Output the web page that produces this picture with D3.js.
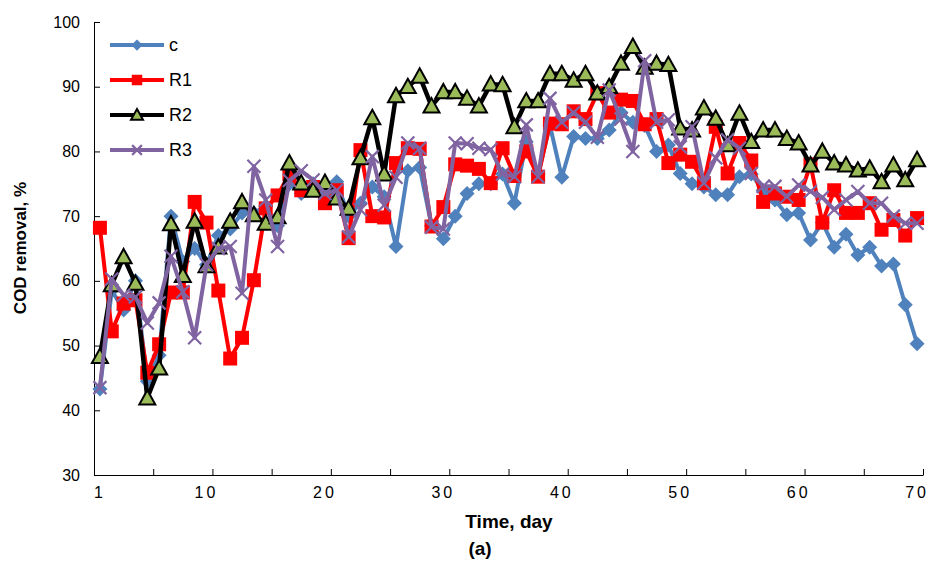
<!DOCTYPE html>
<html><head><meta charset="utf-8">
<script src="https://cdn.jsdelivr.net/npm/d3@7"></script>
<style>body{margin:0;background:#fff}svg{display:block}</style>
</head><body>
<svg id="chart" width="934" height="561"></svg>
<script>
const days = d3.range(1, 71);
const cVals = [43.3,58.5,55.5,60,44.5,48.5,70,63,65,62.5,67,68,70.5,70.5,71.5,68.5,75,73.5,75,73.5,75.3,70,72,74.5,73,65.3,77,77.5,68.5,66.5,70,73.5,75,75,76.5,72,81.5,76.5,84,76,82.3,82,82,83.3,86,84.5,84,80,81,76.6,75,74.5,73.3,73.3,76.1,76.5,74,72.5,70.2,70.5,66.3,69,65.2,67.2,64,65.2,62.3,62.6,56.3,50.3];
const r1Vals = [68.2,52.2,56.5,57,45.8,50.2,58.2,58.2,72.2,69,58.5,48,51.2,60.1,71.2,73.2,76.5,74,74.5,72,74,66.6,80.2,70,69.8,78.2,80.5,80.4,68.4,71.4,78,77.8,77.3,75.1,80.5,76.2,80,76.1,84.3,84.2,86.2,85,89,86,88,87.8,84.2,85,78.2,79.5,78.4,75.1,83.8,76.6,81.3,78.6,72.2,73.5,73,72.5,78,69,74,70.5,70.5,72,67.9,69.4,67,69.7];
const r2Vals = [48.3,59.4,63.7,59.6,41.9,46.5,68.8,60.8,69.2,62.3,65.2,69.2,72.2,70.2,68.9,69.9,78.2,75.1,74,75.2,72.8,71.2,79,85.2,76.5,88.6,90,91.6,87,89.2,89.2,88.2,87,90.4,90.3,83.8,87.8,87.8,92,92,91,92,89,90,93.6,96.2,93,93.6,93.4,83.6,83.3,86.7,85.1,81,85.9,81.5,83.3,83.3,82,81.3,77.9,80,78.2,77.9,77.1,77.4,75.3,77.9,75.6,78.7];
const r3Vals = [43.5,60.3,57.8,57.5,53.5,56.6,63.8,58.3,51.2,62.5,65,65.3,58.1,77.7,72.5,65.3,75.5,77,75.6,73.5,74,66.8,71,79.2,71.7,76,81.3,80.5,68.3,68,81.3,81.2,80.5,80.3,76.5,76.1,84.1,76.1,88.2,84.5,86,84.5,82.2,89.5,85,80,94,84.5,84.9,80.7,83.8,75.1,79,81.8,80.5,76.6,74.6,74.6,73,74.8,73.8,72.9,71,72.5,73.8,72,72,70,68.9,68.9];
const seriesNames = ["c","R1","R2","R3"];
const xTickLabels = [1,10,20,30,40,50,60,70];
const yTicks = [30,40,50,60,70,80,90,100];

const svg = d3.select("#chart");
const x = d3.scaleLinear().domain([0.5, 70.5]).range([94, 923]);
const y = d3.scaleLinear().domain([30, 100]).range([475, 22]);

const series = [
  {name:seriesNames[0], vals:cVals, line:"#4F81BD", fill:"#4F81BD", stroke:"none", shape:"diamond"},
  {name:seriesNames[1], vals:r1Vals, line:"#FF0000", fill:"#FF0000", stroke:"none", shape:"square"},
  {name:seriesNames[2], vals:r2Vals, line:"#000000", fill:"#9BBB59", stroke:"#000", shape:"triangle"},
  {name:seriesNames[3], vals:r3Vals, line:"#8064A2", fill:"none", stroke:"#8064A2", shape:"x"}
];

function markerPath(shape, k){
  k = k || 1;
  switch(shape){
    case "diamond": { const a=7.5*k; return `M0,${-a}L${a},0L0,${a}L${-a},0Z`; }
    case "square": { const a=7*k; return `M${-a},${-a}H${a}V${a}H${-a}Z`; }
    case "triangle": { const a=8*k; return `M0,${-a}L${a},${a*0.8}H${-a}Z`; }
    case "x": { const a=6.5*k; return `M${-a},${-a}L${a},${a}M${a},${-a}L${-a},${a}`; }
  }
}
function sw(shape){ return shape==="x"?2.2:(shape==="triangle"?2:0); }

// axes
const narrow = "'Liberation Sans Narrow','Arial Narrow','Liberation Sans',Arial,sans-serif";
const yAxis = d3.axisLeft(y).tickValues(yTicks).tickSizeInner(-6).tickSizeOuter(0).tickPadding(14);
const gy = svg.append("g").attr("transform","translate(94,0)").call(yAxis);
gy.selectAll("text").attr("font-family", narrow).attr("font-size", 16).attr("fill","#000");
gy.selectAll("line,path").attr("stroke","#000");

const xAxis = d3.axisBottom(x).tickValues(d3.range(0.5, 71, 5)).tickSizeInner(-6).tickSizeOuter(0).tickFormat("");
const gx = svg.append("g").attr("transform","translate(0,475)").call(xAxis);
gx.selectAll("line,path").attr("stroke","#000");
svg.append("g").selectAll("text").data(xTickLabels).join("text")
  .attr("x", d => x(d)).attr("y", 498).attr("text-anchor","middle")
  .attr("font-family", narrow).attr("font-size", 16).attr("letter-spacing", 3)
  .text(d => d);

// series
const line = d3.line().x((d,i)=>x(days[i])).y(d=>y(d));
series.forEach(s => {
  svg.append("path").attr("d", line(s.vals)).attr("fill","none")
    .attr("stroke", s.line).attr("stroke-width", s.shape==="triangle"?4.5:4).attr("stroke-linejoin","round");
  svg.append("g").selectAll("path").data(s.vals).join("path")
    .attr("transform",(d,i)=>`translate(${x(days[i])},${y(d)})`)
    .attr("d", markerPath(s.shape))
    .attr("fill", s.fill).attr("stroke", s.stroke)
    .attr("stroke-width", sw(s.shape));
});

// legend
const leg = svg.append("g");
series.forEach((s,i) => {
  const yy = 45 + i*35;
  leg.append("line").attr("x1",110).attr("x2",164).attr("y1",yy).attr("y2",yy)
    .attr("stroke", s.line).attr("stroke-width",4);
  leg.append("path").attr("transform",`translate(137,${yy})`).attr("d", markerPath(s.shape, 0.75))
    .attr("fill", s.fill).attr("stroke", s.stroke)
    .attr("stroke-width", sw(s.shape));
  leg.append("text").attr("x",169).attr("y",yy+6).attr("font-family","'Liberation Sans',Arial,sans-serif")
    .attr("font-size",18).text(s.name);
});

// titles
svg.append("text").attr("transform","translate(26,248) rotate(-90)").attr("text-anchor","middle")
  .attr("font-family","'Liberation Sans',Arial,sans-serif").attr("font-weight","bold").attr("font-size",17)
  .text("COD removal, %");
svg.append("text").attr("x",509).attr("y",528).attr("text-anchor","middle")
  .attr("font-family", narrow).attr("font-weight","bold").attr("font-size",19)
  .text("Time, day");
svg.append("text").attr("x",480).attr("y",555).attr("text-anchor","middle")
  .attr("font-family", narrow).attr("font-weight","bold").attr("font-size",19)
  .text("(a)");
</script>
</body></html>
